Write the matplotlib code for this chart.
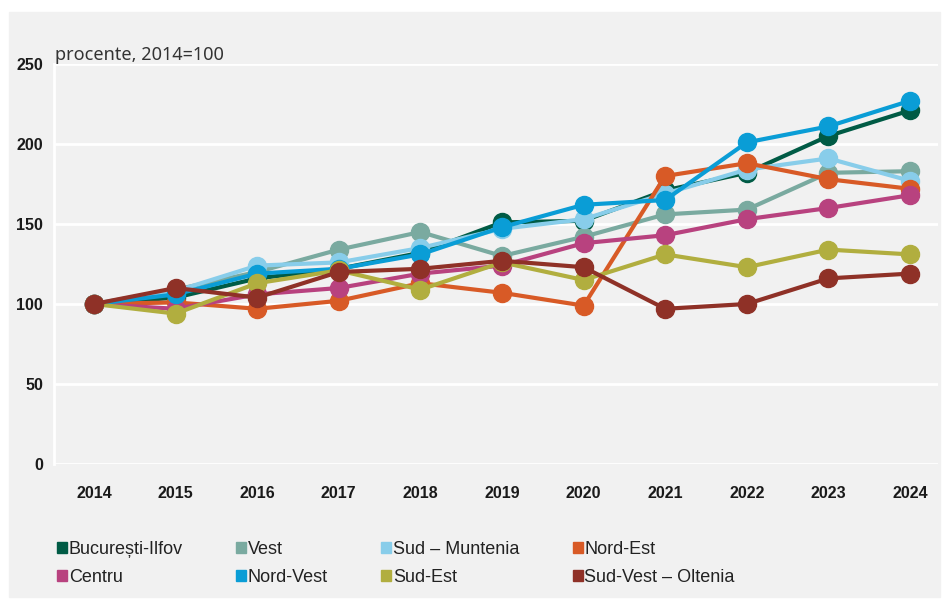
import matplotlib
matplotlib.use("Agg")
import matplotlib.pyplot as plt
import matplotlib.patches as mpatches
import numpy as np

plt.rcParams.update({
    "font.family": ["Liberation Sans", "DejaVu Sans"],
    "axes.linewidth": 0,
    "xtick.bottom": False,
    "ytick.left": False,
})

years = [2014, 2015, 2016, 2017, 2018, 2019, 2020, 2021, 2022, 2023, 2024]

bucuresti = [100, 104, 116, 122, 132, 151, 152, 171, 182, 205, 221]
vest = [100, 109, 120, 134, 145, 130, 142, 156, 159, 182, 183]
sud_muntenia = [100, 108, 124, 126, 135, 147, 153, 169, 184, 191, 177]
nord_est = [100, 101, 97, 102, 113, 107, 99, 180, 188, 178, 172]
centru = [100, 97, 106, 110, 119, 124, 138, 143, 153, 160, 168]
nord_vest = [100, 106, 119, 122, 131, 148, 162, 165, 201, 211, 227]
sud_est = [100, 94, 113, 121, 109, 126, 115, 131, 123, 134, 131]
sud_vest = [100, 110, 104, 120, 122, 127, 123, 97, 100, 116, 119]

labels = ["București-Ilfov", "Vest", "Sud – Muntenia", "Nord-Est",
          "Centru", "Nord-Vest", "Sud-Est", "Sud-Vest – Oltenia"]
series = [bucuresti, vest, sud_muntenia, nord_est,
          centru, nord_vest, sud_est, sud_vest]
colors = ["#005B45", "#7AAAA0", "#88CDEA", "#D85A26",
          "#B8427F", "#0A9DD6", "#B1AE3F", "#8F3127"]
# drawing order (index into series), last on top
draw_order = [0, 1, 4, 5, 2, 6, 3, 7]

fig = plt.figure(figsize=(9.48, 6.01), dpi=100)
W, H = 948, 601

# grey panel behind everything
fig.patches.append(mpatches.Rectangle((9 / W, 4 / H), (940 - 9) / W, (589 - 4) / H,
                                      transform=fig.transFigure, color="#F1F1F1",
                                      zorder=-10))

ax = fig.add_axes([54 / W, (H - 464) / H, (938 - 54) / W, 400 / H])
ax.set_facecolor("none")
ax.set_zorder(1)

for i in draw_order:
    ax.plot(years, series[i], color=colors[i], linewidth=3.0,
            marker="o", markersize=13, zorder=3 + i * 0.01, clip_on=False)

ax.set_ylim(0, 250)
ax.set_xlim(2014 - 40 / 81.6, 2024 + 28 / 81.6)
ax.set_yticks([0, 50, 100, 150, 200, 250])
ax.set_xticks(years)
ax.yaxis.grid(True, color="white", linewidth=2.0, zorder=1)
ax.set_axisbelow(True)
ax.spines["left"].set_visible(True)
ax.spines["left"].set_color("white")
ax.spines["left"].set_linewidth(2.0)
for s in ["top", "right", "bottom"]:
    ax.spines[s].set_visible(False)

ax.tick_params(axis="y", length=0, pad=8, labelsize=11.5)
ax.tick_params(axis="x", length=0, pad=16, labelsize=11.5)
for lab in ax.get_xticklabels() + ax.get_yticklabels():
    lab.set_fontweight("bold")
    lab.set_color("#1a1a1a")

ax.text(0.001, 1.01, "procente, 2014=100", transform=ax.transAxes,
        ha="left", va="baseline", fontsize=13, color="#333333",
        family=["Noto Sans", "DejaVu Sans"])

# legend filled row by row: matplotlib fills columns first, so reorder
ncol, nrow = 4, 2
leg_idx = [r * ncol + c for c in range(ncol) for r in range(nrow)]
handles = [mpatches.Patch(color=colors[k], label=labels[k]) for k in leg_idx]
fig.legend(handles=handles, ncol=ncol, frameon=False,
           loc="upper left", bbox_to_anchor=(57 / W, (H - 541) / H),
           fontsize=13, handlelength=0.55, handleheight=0.55,
           handletextpad=0.1, columnspacing=2.95, labelspacing=0.62,
           borderpad=0, borderaxespad=0, labelcolor="#222222")

fig.savefig("out.png", dpi=100)
